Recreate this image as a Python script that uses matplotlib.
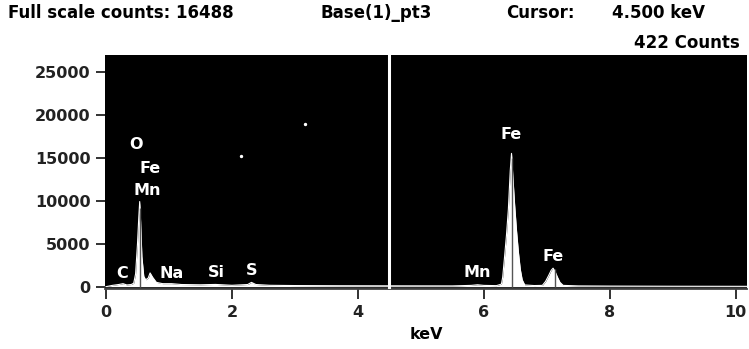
import matplotlib
matplotlib.use("Agg")
import matplotlib.pyplot as plt

# spectrum (energy in keV, counts)
ENERGY = [0.00, 0.10, 0.20, 0.27, 0.33, 0.40, 0.44, 0.47, 0.50, 0.52, 0.535, 0.55, 0.57,
          0.60, 0.63, 0.67, 0.70, 0.74, 0.80, 0.90, 1.04, 1.20, 1.50, 1.74, 2.00,
          2.25, 2.31, 2.38, 2.60, 3.00, 3.70, 4.50, 5.50, 5.80, 5.90, 6.00, 6.20,
          6.28, 6.30, 6.33, 6.36, 6.39, 6.42, 6.44, 6.46, 6.49, 6.52, 6.55, 6.58,
          6.61, 6.65, 6.80, 6.93, 6.98, 7.03, 7.07, 7.10, 7.13, 7.17, 7.21, 7.26,
          7.50, 8.00, 9.00, 10.20]
COUNTS = [0, 150, 250, 350, 200, 250, 400, 1500, 5000, 8000, 9900, 7500, 3500,
          1200, 800, 1000, 1600, 1100, 500, 350, 350, 250, 220, 260, 160,
          250, 500, 250, 160, 130, 110, 100, 90, 150, 220, 150, 120,
          300, 1100, 3500, 6000, 9000, 13500, 15500, 13000, 9500, 6500, 4000, 2000,
          800, 200, 130, 150, 600, 1300, 1900, 2150, 1800, 1100, 500, 150,
          90, 70, 50, 40]

# KLM marker positions drawn through the peaks: (keV, counts reached)
MARKER_KEV = [0.535, 6.44, 7.13]
MARKER_CNT = [9200, 15000, 2000]

# element labels: (text, keV, counts)
LABEL_TEXT = ["O", "Fe", "Mn", "C", "Na", "Si", "S", "Mn", "Fe", "Fe"]
LABEL_KEV = [0.48, 0.70, 0.65, 0.25, 1.04, 1.76, 2.31, 5.89, 6.43, 7.10]
LABEL_CNT = [16500, 13800, 11200, 1500, 1500, 1600, 1900, 1600, 17650, 3500]

CURSOR_KEV = 4.5

# stray bright pixels on the display
SPECK_KEV = [3.16, 2.14]
SPECK_CNT = [18950, 15250]

X_TICKS = [0, 2, 4, 6, 8, 10]
Y_TICKS = [0, 5000, 10000, 15000, 20000, 25000]

plt.rcParams["font.family"] = ["DejaVu Sans"]
plt.rcParams["font.weight"] = "bold"

W, H = 749, 349
fig = plt.figure(figsize=(W / 100, H / 100), dpi=100)
ax = fig.add_axes([105 / W, 60 / H, (747 - 105) / W, (289 - 55) / H])
ax.set_facecolor("black")

ax.fill_between(ENERGY, COUNTS, 0, color="white", lw=0, zorder=2)
ax.plot(ENERGY, COUNTS, color="white", lw=0.8, zorder=2)
ax.vlines(MARKER_KEV, 0, MARKER_CNT, color="#555555", lw=1, zorder=3)
ax.axvline(CURSOR_KEV, color="white", lw=2.2, zorder=4)
ax.scatter(SPECK_KEV, SPECK_CNT, s=2, color="white", zorder=4)

for t, e, c in zip(LABEL_TEXT, LABEL_KEV, LABEL_CNT):
    ax.text(e, c, t, color="white", fontsize=11.5, fontweight="bold",
            ha="center", va="center", zorder=5)

ax.set_xlim(-0.016, 10.18)
ax.set_ylim(-270, 26940)
ax.set_xticks(X_TICKS)
ax.set_yticks(Y_TICKS)
ax.tick_params(axis="both", direction="out", width=1.3, colors="#222222",
               labelsize=11.5)
ax.tick_params(axis="x", length=7.5, pad=4)
ax.tick_params(axis="y", length=6.5, pad=4)
for lab in ax.get_xticklabels() + ax.get_yticklabels():
    lab.set_fontweight("bold")
for s in ["top", "right", "left"]:
    ax.spines[s].set_visible(False)
ax.spines["bottom"].set_color("#444444")
ax.spines["bottom"].set_linewidth(1.3)
ax.set_xlabel("keV", fontsize=11.5, fontweight="bold", labelpad=5)

fig.text(8 / W, 1 - 13 / H, "Full scale counts: 16488", fontsize=12, fontweight="bold",
         va="center", ha="left")
fig.text(320 / W, 1 - 13 / H, "Base(1)_pt3", fontsize=12, fontweight="bold",
         va="center", ha="left")
fig.text(506 / W, 1 - 13 / H, "Cursor:", fontsize=12, fontweight="bold",
         va="center", ha="left")
fig.text(612 / W, 1 - 13 / H, "4.500 keV", fontsize=12, fontweight="bold",
         va="center", ha="left")
fig.text(740 / W, 1 - 43 / H, "422 Counts", fontsize=12, fontweight="bold",
         va="center", ha="right")

fig.savefig("out.png", dpi=100)
